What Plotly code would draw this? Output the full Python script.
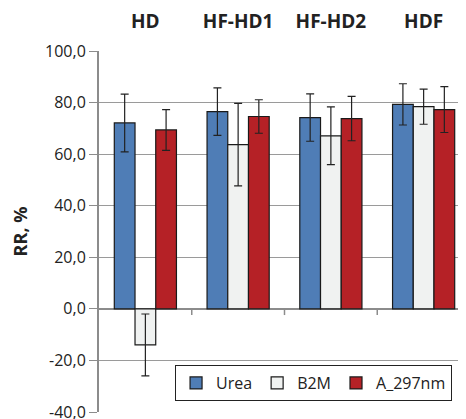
import plotly.graph_objects as go

categories = ["HD", "HF-HD1", "HF-HD2", "HDF"]
urea = [72.1, 76.5, 74.2, 79.3]
urea_err = [11.2, 9.2, 9.2, 8.0]
b2m = [-14.0, 63.7, 67.1, 78.4]
b2m_err = [12.0, 16.0, 11.2, 6.8]
a297 = [69.4, 74.6, 73.8, 77.3]
a297_err = [7.9, 6.5, 8.6, 8.9]
y_ticks = [-40, -20, 0, 20, 40, 60, 80, 100]
y_tick_labels = ["-40,0", "-20,0", "0,0", "20,0", "40,0", "60,0", "80,0", "100,0"]

FONT = "'Open Sans', sans-serif"
edge = "#1a1a1a"

def bar(name, vals, errs, color):
    return go.Bar(
        name=name, x=categories, y=vals,
        marker=dict(color=color, line=dict(color=edge, width=1.2)),
        error_y=dict(type="data", array=errs, visible=True, color="#222222",
                     thickness=1.2, width=4),
    )

fig = go.Figure([
    bar("Urea", urea, urea_err, "#4F7DB6"),
    bar("B2M", b2m, b2m_err, "#F0F2F1"),
    bar("A_297nm", a297, a297_err, "#B52126"),
])

# small tick marks on zero line between categories
for xb in [0.5, 1.5, 2.5]:
    fig.add_shape(type="line", xref="x", yref="y", x0=xb, x1=xb, y0=0, y1=-2.4,
                  line=dict(color="#8c8c8c", width=1.5))

fig.update_layout(
    width=466, height=419,
    margin=dict(l=91, r=4, t=43, b=15),
    paper_bgcolor="white", plot_bgcolor="white",
    barmode="group", bargap=0.33, bargroupgap=0,
    font=dict(family=FONT, color="#222222", size=16),
    showlegend=True,
    legend=dict(orientation="h", x=0.205, y=0.13, xanchor="left", yanchor="top",
                bgcolor="white", bordercolor="#222222", borderwidth=1,
                font=dict(size=16, family=FONT), traceorder="normal",
                itemwidth=30),
    xaxis=dict(side="top", range=[-0.5, 3.5], showgrid=False, zeroline=False,
               showline=False, ticks="", ticklabelstandoff=18, automargin=False,
               tickfont=dict(size=19, family=FONT, color="#222222", weight="bold")),
    yaxis=dict(range=[-40, 100], tickvals=y_ticks, ticktext=y_tick_labels,
               automargin=False,
               showgrid=True, gridcolor="#9a9a9a", gridwidth=1,
               zeroline=True, zerolinecolor="#8c8c8c", zerolinewidth=1.5,
               showline=True, linecolor="#8c8c8c", linewidth=2,
               ticks="outside", ticklen=8, tickcolor="#8c8c8c", tickwidth=1,
               tickfont=dict(size=16, family=FONT, color="#222222"),
               title=dict(text="RR, %", standoff=14,
                          font=dict(size=18, family=FONT, color="#222222", weight="bold"))),
)

fig.write_html("out.html")
